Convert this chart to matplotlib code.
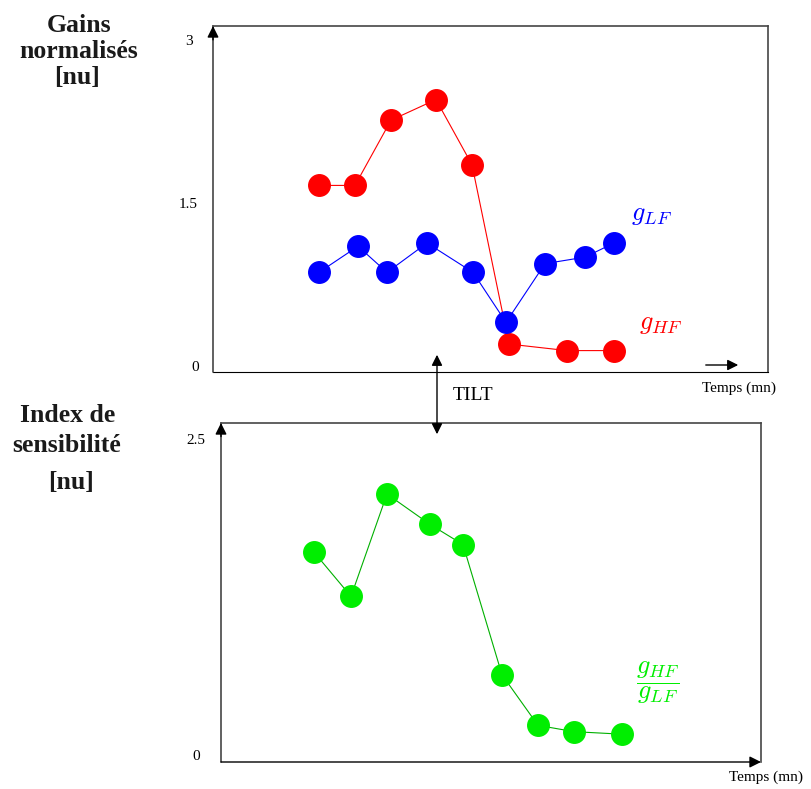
import matplotlib
matplotlib.use("Agg")
import matplotlib.pyplot as plt

plt.rcParams["font.family"] = ["Liberation Serif", "DejaVu Serif"]
plt.rcParams["mathtext.fontset"] = "cm"

# time axis (arbitrary minutes)
t_hf = [10.6, 14.2, 17.8, 22.3, 25.9, 29.6, 35.4, 40.1]
g_hf = [1.68, 1.68, 2.28, 2.47, 1.87, 0.22, 0.16, 0.16]

t_lf = [10.6, 14.5, 17.4, 21.4, 26.0, 29.3, 33.2, 37.2, 40.1]
g_lf = [0.88, 1.12, 0.88, 1.15, 0.88, 0.42, 0.96, 1.02, 1.15]

t_idx = [9.3, 13.0, 16.6, 20.9, 24.2, 28.1, 31.7, 35.3, 40.1]
idx = [1.62, 1.27, 2.08, 1.84, 1.68, 0.65, 0.25, 0.20, 0.18]

W, H = 812, 789
fig = plt.figure(figsize=(W / 100, H / 100), dpi=100)

def fx(px):
    return px / W

def fy(py):
    return 1 - py / H

gray = "#454545"

def up_arrow(ax):
    # left spine drawn as an arrow pointing up
    ax.annotate("", xy=(0, 1), xytext=(0, 0), xycoords="axes fraction",
                arrowprops=dict(arrowstyle="-", color=gray, lw=1.2,
                                shrinkA=0, shrinkB=0))
    ax.annotate("", xy=(0, 1), xytext=(0, 0.96), xycoords="axes fraction",
                arrowprops=dict(arrowstyle="-|>", color="black", lw=1.0,
                                shrinkA=0, shrinkB=0, mutation_scale=17))

# ---------- top panel ----------
ax1 = fig.add_axes([fx(213), fy(372), (768 - 213) / W, (372 - 26) / H])
ax1.set_xlim(0, 55.5)
ax1.set_ylim(-0.037, 3.147)
ax1.plot(t_hf, g_hf, color="red", lw=0.8, marker="o", ms=15.5, mfc="red", mec="red")
ax1.plot(t_lf, g_lf, color="blue", lw=0.8, marker="o", ms=15.5, mfc="blue", mec="blue")
ax1.set_xticks([])
ax1.set_yticks([])
for s in ["top", "right"]:
    ax1.spines[s].set_color(gray)
    ax1.spines[s].set_linewidth(1.2)
ax1.spines["bottom"].set_color("black")
ax1.spines["left"].set_visible(False)
up_arrow(ax1)
tr1 = ax1.get_yaxis_transform()
for val, lab, px in [(3, "3", 189), (1.5, "1.5", 188), (0, "0", 195)]:
    ax1.text((px - 213) / 555, val, lab, transform=tr1, ha="center", va="center",
             fontsize=11, clip_on=False)
ax1.text(fx(652), fy(216), r"$g_{LF}$", transform=fig.transFigure, color="blue",
         fontsize=19, ha="center", va="center")
ax1.text(fx(661), fy(325), r"$g_{HF}$", transform=fig.transFigure, color="red",
         fontsize=19, ha="center", va="center")
fig.patches.append(matplotlib.patches.FancyArrowPatch(
    (fx(703), fy(365)), (fx(741), fy(365)), transform=fig.transFigure,
    arrowstyle="-|>", mutation_scale=16, color="black", lw=1.0))
fig.text(fx(739), fy(388), "Temps (mn)", fontsize=11, ha="center", va="center")

# ---------- bottom panel ----------
ax2 = fig.add_axes([fx(221), fy(762), (761 - 221) / W, (762 - 423) / H])
ax2.set_xlim(0, 54)
ax2.set_ylim(-0.04, 2.642)
ax2.plot(t_idx, idx, color="#00b000", lw=0.8, marker="o", ms=15.5,
         mfc="#00ee00", mec="#00ee00")
ax2.set_xticks([])
ax2.set_yticks([])
for s in ["top", "right"]:
    ax2.spines[s].set_color(gray)
    ax2.spines[s].set_linewidth(1.2)
ax2.spines["left"].set_visible(False)
ax2.spines["bottom"].set_visible(False)
up_arrow(ax2)
ax2.annotate("", xy=(1, 0), xytext=(0, 0), xycoords="axes fraction",
             arrowprops=dict(arrowstyle="-|>", color="black", lw=1.0,
                             shrinkA=0, shrinkB=0, mutation_scale=17))
tr2 = ax2.get_yaxis_transform()
for val, lab in [(2.5, "2.5"), (0, "0")]:
    ax2.text((196 - 221) / 540, val, lab, transform=tr2, ha="center", va="center",
             fontsize=11, clip_on=False)
ax2.text(fx(658), fy(683), r"$\dfrac{g_{HF}}{g_{LF}}$", transform=fig.transFigure,
         color="#00ee00", fontsize=19, ha="center", va="center")
fig.text(fx(766), fy(777), "Temps (mn)", fontsize=11, ha="center", va="center")

# ---------- TILT marker between the panels ----------
fig.patches.append(matplotlib.patches.FancyArrowPatch(
    (fx(437), fy(352)), (fx(437), fy(437)), transform=fig.transFigure,
    arrowstyle="<|-|>", mutation_scale=16, color="black", lw=1.0))
fig.text(fx(473), fy(395), "TILT", fontsize=14, ha="center", va="center")

# ---------- left titles ----------
for txt, px, py in [("Gains", 79, 32), ("normalisés", 79, 58), ("[nu]", 77, 84),
                    ("Index de", 68, 422), ("sensibilité", 67, 452), ("[nu]", 71, 489)]:
    fig.text(fx(px), fy(py), txt, fontsize=18.5, fontweight="bold", color="#1a1a1a",
             ha="center", va="baseline")

fig.savefig("out.png", dpi=100)
